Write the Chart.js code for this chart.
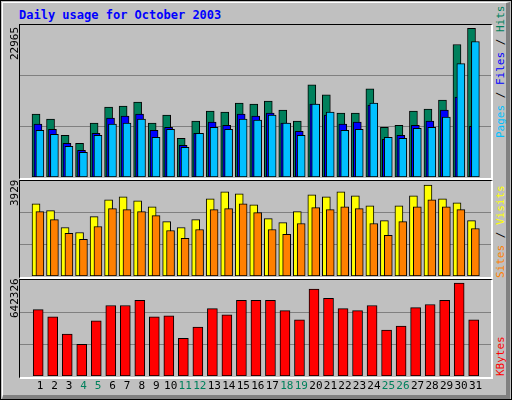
<!DOCTYPE html>
<html><head><meta charset="utf-8">
<script src="https://cdn.jsdelivr.net/npm/chart.js@4"></script>
<style>
body{margin:0;width:512px;height:400px;overflow:hidden;background:#fff;font-family:"DejaVu Sans Mono",monospace}
#frame{position:absolute;left:0;top:0;width:510px;height:398px;border:1px solid #000;background:#C0C0C0}
#bev{position:absolute;left:1px;top:1px;width:503px;height:392px;border-right:4px solid #808080;border-bottom:4px solid #808080;border-top:1px solid #fff;border-left:1px solid #fff}
.panel{position:absolute;left:19px;width:471px;border-top:1px solid #000;border-left:1px solid #000;border-right:2px solid #fff;border-bottom:2px solid #fff;box-sizing:content-box}
canvas{position:absolute}
.t{position:absolute;white-space:nowrap;font-size:11px}
.rot{position:absolute;transform-origin:left top;transform:rotate(-90deg);white-space:nowrap;font-size:11px}
</style></head><body>
<div id="frame"><div id="bev"></div></div>
<div class="t" style="left:19px;top:8px;color:#0000FF;font-weight:bold;font-size:12px">Daily usage for October 2003</div>
<div class="panel" style="top:24px;height:153px"></div>
<div class="panel" style="top:180px;height:96px"></div>
<div class="panel" style="top:279px;height:97px"></div>
<canvas id="c1" style="left:20px;top:25px;width:471px;height:152px"></canvas>
<canvas id="c2" style="left:20px;top:181px;width:471px;height:95px"></canvas>
<canvas id="c3" style="left:20px;top:280px;width:471px;height:118px"></canvas>
<div class="rot" style="left:8px;top:60px;color:#000">22965</div>
<div class="rot" style="left:8px;top:206px;color:#000">3929</div>
<div class="rot" style="left:8px;top:318px;color:#000">642326</div>
<div class="rot" style="left:494px;top:138px"><span style="color:#00C0FF">Pages</span> / <span style="color:#0000FF">Files</span> / <span style="color:#00805C">Hits</span></div>
<div class="rot" style="left:494px;top:278px"><span style="color:#FF8000">Sites</span> / <span style="color:#FFFF00">Visits</span></div>
<div class="rot" style="left:494px;top:376px"><span style="color:#FF0000">KBytes</span></div>
<script>
const days=[1,2,3,4,5,6,7,8,9,10,11,12,13,14,15,16,17,18,19,20,21,22,23,24,25,26,27,28,29,30,31];
const weekend=[4,5,11,12,18,19,25,26];
const hits=[9717,8937,6443,5196,8314,10808,10964,11587,8314,9561,5975,8625,10184,10028,11431,11275,11743,10340,8625,14237,12678,9872,9872,13613,7690,8002,10184,10496,11899,20472,22965];
const files=[8158,7378,5196,4105,6755,9093,9405,9717,7222,7690,4884,6755,8470,8002,9717,9405,9872,8314,7067,11275,9561,8158,8470,11119,5820,6443,8002,8625,10340,12366,7846];
const pages=[7222,6599,4728,3793,6443,8158,8314,8937,6131,7378,4572,6755,7690,7378,8937,8781,9561,8314,6443,11275,10028,7222,7378,11431,6131,5975,7534,7690,9249,17511,20940];
const visits=[3118,2819,2093,1879,2563,3289,3417,3246,2990,2349,2093,2435,3332,3631,3545,3075,2477,2306,2777,3503,3417,3631,3460,3033,2392,3033,3460,3929,3332,3161,2392];
const sites=[2777,2435,1837,1581,2136,2905,2862,2777,2606,1965,1623,2008,2862,2905,3118,2734,2008,1794,2264,2948,2862,2990,2905,2264,1752,2350,2990,3289,2990,2862,2051];
const kbytes=[458796,409387,289394,218810,381154,487030,487030,522322,409387,416446,261161,338803,465854,423504,522322,522322,522322,451738,388212,599964,536438,465854,451738,487030,317628,345862,472913,494088,522322,642326,388212];
const yMax=[23485,4100,663500];

const XMIN=0.42,XMAX=31.82;
function pts(arr,off){return arr.map((v,i)=>({x:days[i]+off,y:v}));}
function ds(arr,off,color,w,order){return {data:pts(arr,off),backgroundColor:color,borderColor:'#000',borderWidth:1,borderSkipped:false,barThickness:w,order:order,grouped:false};}
function yScale(max){return {min:0,max:max,display:true,border:{display:false},
  ticks:{display:false},grid:{color:'#808080',drawTicks:false,lineWidth:1},
  afterBuildTicks:s=>{s.ticks=[{value:max/3},{value:2*max/3}];},afterFit:s=>{s.width=0;}};}
function xScale(show){return {type:'linear',min:XMIN,max:XMAX,display:show,border:{display:false},grid:{display:false,drawTicks:false},
  afterFit:s=>{if(show)s.height=22;},
  afterBuildTicks:s=>{s.ticks=days.map(d=>({value:d+0.28}));},
  ticks:{autoSkip:false,maxRotation:0,padding:4,font:{family:'DejaVu Sans Mono',size:11},
    callback:(v,i)=>String(days[i]),color:c=>weekend.includes(days[c.index])?'#00805C':'#000'}};}
function opts(i,showX){return {responsive:false,animation:false,devicePixelRatio:1,
  layout:{padding:0},plugins:{legend:{display:false},tooltip:{enabled:false}},
  scales:{x:xScale(showX),y:yScale(yMax[i])}};}
function mk(id,w,h,datasets,i,showX){const c=document.getElementById(id);c.width=w;c.height=h;
  new Chart(c,{type:'bar',data:{datasets},options:opts(i,showX)});}
mk('c1',471,152,[ds(hits,0,'#00805C',8,3),ds(files,0.133,'#0000FF',8,2),ds(pages,0.267,'#00C0FF',8,1)],0,false);
mk('c2',471,95,[ds(visits,0,'#FFFF00',8,2),ds(sites,0.267,'#FF8000',8,1)],1,false);
mk('c3',471,118,[ds(kbytes,0.15,'#FF0000',10,1)],2,true);
</script></body></html>
